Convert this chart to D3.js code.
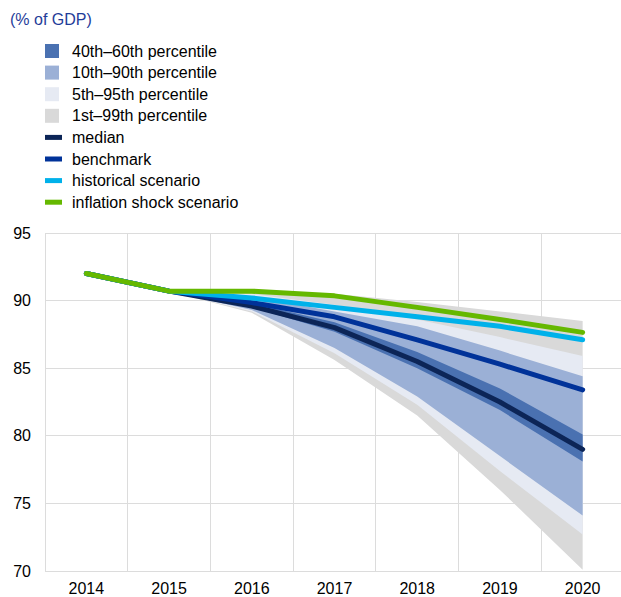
<!DOCTYPE html>
<html>
<head>
<meta charset="utf-8">
<title>Debt projections</title>
<script src="https://cdn.jsdelivr.net/npm/d3@7"></script>
<style>
  body { margin: 0; background: #fff; }
  svg { display: block; font-family: "Liberation Sans", Arial, sans-serif; }
  .axis text { font-size: 16px; fill: #000; }
  .axis path, .axis line { display: none; }
  .grid line { stroke: #dcdcdc; stroke-width: 1; shape-rendering: crispEdges; }
</style>
</head>
<body>
<script>
// years on the x axis
var years = [2014, 2015, 2016, 2017, 2018, 2019, 2020];
var bandYears = [2015, 2016, 2017, 2018, 2019, 2020];
var yTicks = [70, 75, 80, 85, 90, 95];

// lines
var median     = [92.0, 90.7, 89.6, 88.0, 85.5, 82.5, 79.0];
var benchmark  = [92.0, 90.7, 89.85, 88.8, 87.1, 85.3, 83.4];
var historical = [92.0, 90.7, 90.2, 89.5, 88.8, 88.1, 87.1];
var inflation  = [92.0, 90.7, 90.7, 90.35, 89.5, 88.6, 87.65];

// percentile bands (from 2015)
var p1  = [90.7, 89.1, 85.6, 81.5, 76.0, 70.1];
var p99 = [90.7, 90.7, 90.5, 89.9, 89.2, 88.5];
var p5  = [90.7, 89.2, 86.1, 82.3, 77.4, 72.7];
var p95 = [90.7, 90.5, 89.7, 88.6, 87.3, 85.9];
var p10 = [90.7, 89.3, 86.5, 82.9, 78.5, 74.1];
var p90 = [90.7, 90.3, 89.2, 88.1, 86.3, 84.4];
var p40 = [90.7, 89.5, 87.7, 85.0, 81.9, 78.1];
var p60 = [90.7, 89.8, 88.4, 86.2, 83.5, 80.1];

var width = 621, height = 597;
var svg = d3.select("body").append("svg")
  .attr("width", width)
  .attr("height", height);

var x = d3.scaleBand().domain(years).range([45, 624]).padding(0);
var y = d3.scaleLinear().domain([70, 95]).range([571, 233]);
var cx = function(yr){ return x(yr) + x.bandwidth() / 2; };

// title
svg.append("text")
  .attr("x", 10).attr("y", 25)
  .style("font-size", "16px")
  .attr("fill", "#1f3d99")
  .text("(% of GDP)");

// grid
var grid = svg.append("g").attr("class", "grid");
grid.selectAll(".h").data(yTicks).enter().append("line")
  .attr("x1", 45).attr("x2", width)
  .attr("y1", function(d){ return y(d); })
  .attr("y2", function(d){ return y(d); });
grid.selectAll(".v").data(years).enter().append("line")
  .attr("x1", function(d){ return x(d); })
  .attr("x2", function(d){ return x(d); })
  .attr("y1", y(95)).attr("y2", y(70));

// bands
var bands = [
  {lo: p1,  hi: p99, color: "#d9d9d9"},
  {lo: p5,  hi: p95, color: "#e6eaf3"},
  {lo: p10, hi: p90, color: "#9bb0d6"},
  {lo: p40, hi: p60, color: "#4a71b1"}
];
var area = d3.area()
  .x(function(d){ return cx(d.yr); })
  .y0(function(d){ return y(d.lo); })
  .y1(function(d){ return y(d.hi); });
bands.forEach(function(b){
  var pts = bandYears.map(function(yr, i){ return {yr: yr, lo: b.lo[i], hi: b.hi[i]}; });
  svg.append("path").datum(pts)
    .attr("d", area)
    .attr("fill", b.color);
});

// lines
var lines = [
  {vals: median,     color: "#0c2557"},
  {vals: benchmark,  color: "#003299"},
  {vals: historical, color: "#00b1ea"},
  {vals: inflation,  color: "#65b800"}
];
var line = d3.line()
  .x(function(d, i){ return cx(years[i]); })
  .y(function(d){ return y(d); });
lines.forEach(function(l){
  svg.append("path").datum(l.vals)
    .attr("d", line)
    .attr("fill", "none")
    .attr("stroke", l.color)
    .attr("stroke-width", 5)
    .attr("stroke-linecap", "round")
    .attr("stroke-linejoin", "round");
});

// axes
svg.append("g").attr("class", "axis")
  .attr("transform", "translate(45,0)")
  .call(d3.axisLeft(y).tickValues(yTicks).tickSize(0).tickPadding(14));
svg.append("g").attr("class", "axis")
  .attr("transform", "translate(0,571)")
  .call(d3.axisBottom(x).tickSize(0).tickPadding(12));

// legend
var legend = [
  {label: "40th\u201360th percentile", color: "#4a71b1", type: "box"},
  {label: "10th\u201390th percentile", color: "#9bb0d6", type: "box"},
  {label: "5th\u201395th percentile",  color: "#e6eaf3", type: "box"},
  {label: "1st\u201399th percentile",  color: "#d9d9d9", type: "box"},
  {label: "median",                    color: "#0c2557", type: "line"},
  {label: "benchmark",                 color: "#003299", type: "line"},
  {label: "historical scenario",       color: "#00b1ea", type: "line"},
  {label: "inflation shock scenario",  color: "#65b800", type: "line"}
];
var lg = svg.selectAll(".lg").data(legend).enter().append("g")
  .attr("transform", function(d, i){ return "translate(45," + (51 + i * 21.6) + ")"; });
lg.append("rect")
  .attr("x", 0)
  .attr("y", function(d){ return d.type == "box" ? -7 : -2.5; })
  .attr("width", function(d){ return d.type == "box" ? 14 : 17; })
  .attr("height", function(d){ return d.type == "box" ? 14 : 5; })
  .attr("fill", function(d){ return d.color; });
lg.append("text")
  .attr("x", 27).attr("dy", "0.35em")
  .style("font-size", "16px")
  .text(function(d){ return d.label; });
</script>
</body>
</html>
